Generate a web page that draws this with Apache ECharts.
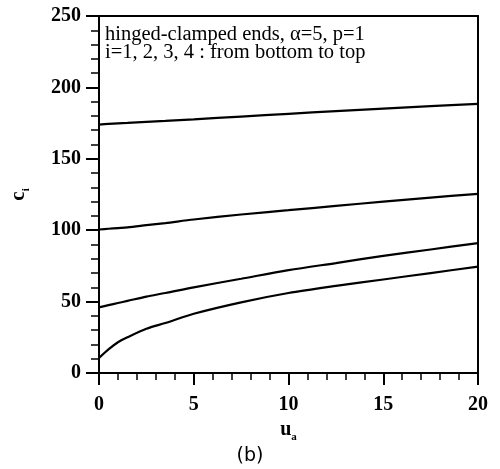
<!DOCTYPE html>
<html>
<head>
<meta charset="utf-8">
<script src="https://cdn.jsdelivr.net/npm/echarts@6/dist/echarts.min.js"></script>
<style>
  html, body { margin: 0; padding: 0; background: #fff; }
  #chart { width: 500px; height: 469px; }
</style>
</head>
<body>
<div id="chart"></div>
<script>
// ---- data (b) ----
var uValues = [0, 0.5, 1, 1.5, 2.5, 3.5, 5, 7.5, 10, 12.5, 15, 17.5, 20];
var c1 = [10.5, 16.5, 21.5, 25, 31, 35, 41.5, 49.5, 56, 61, 65.5, 70, 74.5];
var c2 = [46, 47.5, 49, 50.5, 53.5, 56, 60, 66, 72, 77, 82, 86.5, 91];
var c3 = [100.5, 101, 101.5, 102, 103.5, 105, 107.5, 111, 114, 117, 120, 122.8, 125.5];
var c4 = [174, 174.4, 174.8, 175.1, 175.8, 176.5, 177.6, 179.6, 181.5, 183.4, 185.2, 186.9, 188.5];
var curves = [c1, c2, c3, c4];

var SERIF = "'Liberation Serif', 'DejaVu Serif', serif";

function pairs(ys) {
  return uValues.map(function(u, i) { return [u, ys[i]]; });
}

var chart = echarts.init(document.getElementById("chart"), null, { renderer: "canvas" });

// frame lines only (top / right)
var frameAxis = {
  axisLine: { show: true, onZero: false, lineStyle: { color: "#000", width: 2 } },
  axisTick: { show: false },
  axisLabel: { show: false },
  splitLine: { show: false }
};

chart.setOption({
  animation: false,
  grid: { left: 94, right: 22, top: 16, bottom: 96 },
  xAxis: [{
    type: "value", min: 0, max: 20, interval: 5,
    name: "{u|u}{a|a}", nameLocation: "middle", nameGap: 30,
    nameTextStyle: {
      rich: {
        u: { fontFamily: SERIF, fontSize: 20, fontWeight: "bold", color: "#000", verticalAlign: "bottom" },
        a: { fontFamily: SERIF, fontSize: 11, fontWeight: "bold", color: "#000", verticalAlign: "bottom", padding: [0, 0, -3, 0] }
      }
    },
    axisLine: { onZero: false, lineStyle: { color: "#000", width: 2 } },
    axisTick: { inside: false, length: 12, lineStyle: { color: "#000", width: 2 } },
    minorTick: { show: true, splitNumber: 5, length: 7, lineStyle: { color: "#000", width: 1.5 } },
    axisLabel: { fontFamily: SERIF, fontSize: 20, fontWeight: "bold", color: "#000", margin: 22 },
    splitLine: { show: false }
  }, Object.assign({ type: "value", position: "top", min: 0, max: 20 }, frameAxis)],
  yAxis: [{
    type: "value", min: 0, max: 250, interval: 50,
    name: "{c|c}{i|i}", nameLocation: "middle", nameGap: 70, nameRotate: 90,
    nameTextStyle: {
      rich: {
        c: { fontFamily: SERIF, fontSize: 21, fontWeight: "bold", color: "#000", verticalAlign: "bottom" },
        i: { fontFamily: SERIF, fontSize: 11, fontWeight: "bold", color: "#000", verticalAlign: "bottom", padding: [0, 0, -3, 0] }
      }
    },
    axisLine: { onZero: false, lineStyle: { color: "#000", width: 2 } },
    axisTick: { inside: false, length: 13, lineStyle: { color: "#000", width: 2 } },
    minorTick: { show: true, splitNumber: 5, length: 8, lineStyle: { color: "#000", width: 1.5 } },
    axisLabel: { fontFamily: SERIF, fontSize: 20, fontWeight: "bold", color: "#000", margin: 18 },
    splitLine: { show: false }
  }, Object.assign({ type: "value", position: "right", min: 0, max: 250 }, frameAxis)],
  graphic: [{
    type: "text", left: 105, top: 24,
    style: {
      text: "hinged-clamped ends, \u03b1=5, p=1\ni=1, 2, 3, 4 : from bottom to top",
      font: "20.5px " + SERIF, fill: "#000", lineHeight: 18
    }
  }, {
    type: "text", left: "center", top: 447,
    style: { text: "(b)", font: "19px 'DejaVu Sans', sans-serif", fill: "#000" }
  }],
  series: curves.map(function(ys, k) {
    return {
      type: "line", name: "i=" + (k + 1), data: pairs(ys),
      xAxisIndex: 0, yAxisIndex: 0,
      smooth: 0.3, showSymbol: false,
      lineStyle: { color: "#000", width: 2.2 }
    };
  })
});
</script>
</body>
</html>
